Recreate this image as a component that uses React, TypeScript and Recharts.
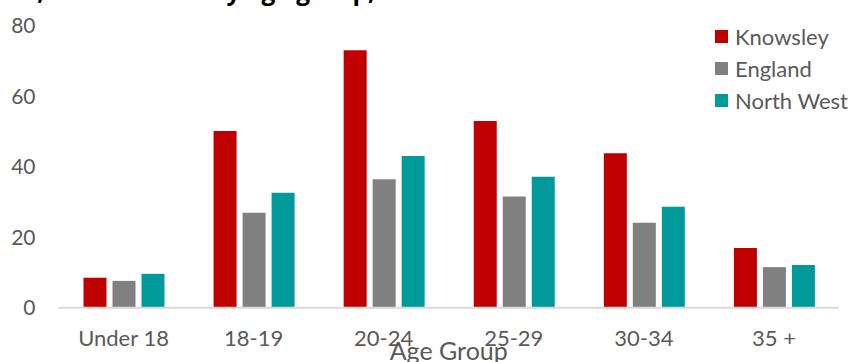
import React from 'react';
import { BarChart, Bar, XAxis, YAxis, Legend } from 'recharts';

const categories = ['Under 18', '18-19', '20-24', '25-29', '30-34', '35 +'];
const knowsley = [8.5, 50.1, 73.0, 52.9, 43.8, 16.9];
const england = [7.6, 26.9, 36.4, 31.5, 24.1, 11.5];
const northWest = [9.6, 32.6, 43.0, 37.1, 28.6, 12.1];
const yTicks = [0, 20, 40, 60, 80];
const seriesNames = ['Knowsley', 'England', 'North West'];
const titleText = 'Abortions, overall rates by age group, 2021';
const axisTitle = 'Age Group';

const COLORS = ['#C00000', '#808080', '#009A9A'];
const FONT = 'Lato, "Open Sans", sans-serif';
const TEXT = '#595959';

const data = categories.map((c, i) => ({
  category: c,
  Knowsley: knowsley[i],
  England: england[i],
  'North West': northWest[i],
}));

const LegendContent = () => (
  <div style={{ fontFamily: FONT, fontSize: 22, color: TEXT }}>
    {seriesNames.map((n, i) => (
      <div key={n} style={{ display: 'flex', alignItems: 'center', height: 32, whiteSpace: 'nowrap' }}>
        <span style={{ display: 'inline-block', width: 13, height: 13, background: COLORS[i], marginRight: 7 }} />
        <span>{n}</span>
      </div>
    ))}
  </div>
);

export default function App() {
  return (
    <div style={{ position: 'absolute', left: 0, top: 0, width: 852, height: 362, background: '#fff', overflow: 'hidden' }}>
      <svg width={852} height={12} style={{ position: 'absolute', left: 0, top: 0 }}>
        <text x={-83} y={0} fontFamily={'"Open Sans", sans-serif'} fontWeight={700} fontSize={24.5} fill="#000">
          {titleText}
        </text>
      </svg>
      <BarChart
        width={852}
        height={362}
        data={data}
        margin={{ top: 25.5, right: 13, bottom: 0, left: 0 }}
        barGap={6}
        barSize={23}
      >
        <XAxis
          dataKey="category"
          height={54.3}
          tickSize={0}
          tickMargin={22.7}
          tick={{ fill: TEXT, fontSize: 22, fontFamily: FONT }}
          axisLine={{ stroke: '#D9D9D9', strokeWidth: 2 }}
          label={{ value: axisTitle, position: 'insideBottom', offset: 2, fill: TEXT, fontSize: 25, fontFamily: FONT }}
        />
        <YAxis
          width={58.5}
          domain={[0, 80]}
          ticks={yTicks}
          tickSize={0}
          tickMargin={23}
          axisLine={false}
          tick={{ fill: TEXT, fontSize: 21, fontFamily: FONT }}
        />
        <Legend
          layout="vertical"
          align="center"
          verticalAlign="middle"
          content={<LegendContent />}
          wrapperStyle={{ left: 715, top: 20, width: 140 }}
        />
        {seriesNames.map((n, i) => (
          <Bar key={n} dataKey={n} fill={COLORS[i]} isAnimationActive={false} />
        ))}
      </BarChart>
    </div>
  );
}
